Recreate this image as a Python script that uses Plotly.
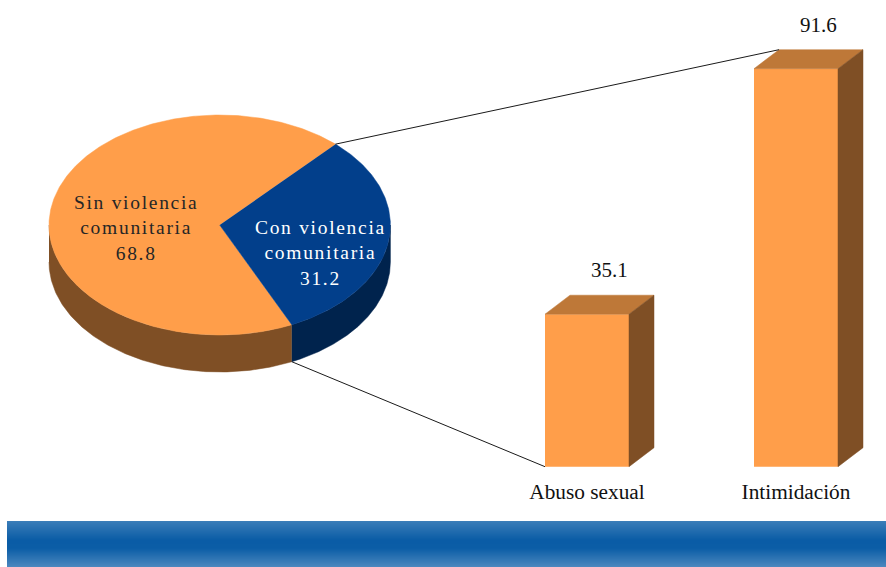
import numpy as np
import plotly.graph_objects as go

# ---- data ----
pie_labels = ["Sin violencia<br>comunitaria", "Con violencia<br>comunitaria"]
pie_values = [68.8, 31.2]
bar_categories = ["Abuso sexual", "Intimidación"]
bar_values = [35.1, 91.6]

W, H = 886, 567
ORANGE, ORANGE_SIDE, ORANGE_TOP = "#FF9E4A", "#7F4F25", "#BE7838"
BLUE, BLUE_SIDE = "#023F8B", "#00234D"
FONT = "Liberation Serif"

# ---- scales ----
BASE_PX, PX_PER_UNIT = 466.7, 4.345
AXIS_PX = 477
CAT0_PX, CAT_STEP = 587, 209
BAR_W_PX, DEPTH_X, DEPTH_Y = 84, 25, 19
val_px = lambda v: BASE_PX - v * PX_PER_UNIT

# pie geometry
CX, CY, RX, RY, DEPTH = 219.7, 225, 170.7, 110, 37
START_DEG = 47.3  # upper split between the slices
blue_span = 360 * pie_values[1] / sum(pie_values)
END_DEG = START_DEG - blue_span


def arc(a0, a1, dy=0, n=160):
    t = np.radians(np.linspace(a0, a1, n))
    return CX + RX * np.cos(t), CY - RY * np.sin(t) + dy


def poly(x, y, color, name):
    return go.Scatter(x=list(x), y=list(y), mode="lines", fill="toself", fillcolor=color,
                      line=dict(color=color, width=0.5), xaxis="x2", yaxis="y2",
                      hoverinfo="skip", showlegend=False, name=name)


def side_wall(a0, a1, color, name):
    x, y = arc(a0, a1)
    xb, yb = arc(a1, a0, DEPTH)
    return poly(np.r_[x, xb], np.r_[y, yb], color, name)


fig = go.Figure()

# bars (front faces) through the value axis
fig.add_trace(go.Bar(x=[0, 1], y=bar_values, width=BAR_W_PX / CAT_STEP,
                     marker=dict(color=ORANGE, line=dict(width=0)),
                     hoverinfo="skip", showlegend=False))

# pie
fig.add_trace(side_wall(-180, END_DEG, ORANGE_SIDE, "side a"))
fig.add_trace(side_wall(END_DEG, 0, BLUE_SIDE, "side b"))
xa, ya = arc(START_DEG, END_DEG + 360, n=400)
fig.add_trace(poly(np.r_[CX, xa], np.r_[CY, ya], ORANGE, pie_labels[0]))
xb, yb = arc(END_DEG, START_DEG)
fig.add_trace(poly(np.r_[CX, xb], np.r_[CY, yb], BLUE, pie_labels[1]))

# bar depth faces
for i, v in enumerate(bar_values):
    x0 = CAT0_PX + i * CAT_STEP - BAR_W_PX / 2
    x1 = x0 + BAR_W_PX
    top = val_px(v)
    fig.add_trace(poly([x0, x0 + DEPTH_X, x1 + DEPTH_X, x1, x0],
                       [top, top - DEPTH_Y, top - DEPTH_Y, top, top], ORANGE_TOP, "top"))
    fig.add_trace(poly([x1, x1 + DEPTH_X, x1 + DEPTH_X, x1, x1],
                       [top, top - DEPTH_Y, BASE_PX - DEPTH_Y, BASE_PX, top], ORANGE_SIDE, "side"))

# connector lines
ux, uy = arc(START_DEG, START_DEG, n=1)
lx, ly = arc(END_DEG, END_DEG, DEPTH, n=1)
bar2_x0 = CAT0_PX + CAT_STEP - BAR_W_PX / 2
bar1_x0 = CAT0_PX - BAR_W_PX / 2
for xs, ys in (([ux[0], bar2_x0 + DEPTH_X], [uy[0], val_px(bar_values[1]) - DEPTH_Y]),
               ([lx[0], bar1_x0], [ly[0], BASE_PX])):
    fig.add_trace(go.Scatter(x=xs, y=ys, mode="lines", line=dict(color="#1a1a1a", width=1),
                             xaxis="x2", yaxis="y2", hoverinfo="skip", showlegend=False))

# banner gradient (top, middle, bottom colour stops)
stops = [(0.0, (58, 125, 184)), (0.42, (10, 92, 166)), (0.6, (12, 94, 167)), (1.0, (74, 135, 190))]
BAN_X0, BAN_Y0 = 7, 521
shapes = []
for py in range(BAN_Y0, H):
    f = (py - BAN_Y0) / (H - 1 - BAN_Y0)
    c = [np.interp(f, [s[0] for s in stops], [s[1][k] for s in stops]) for k in range(3)]
    shapes.append(dict(type="rect", xref="x2", yref="y2", x0=BAN_X0, x1=W, y0=py, y1=py + 1,
                       fillcolor="rgb(%d,%d,%d)" % tuple(c), line=dict(width=0), layer="below"))

# texts
annots = []
for label, val, px, py, col in ((pie_labels[0], pie_values[0], 136, 228, "#262626"),
                                (pie_labels[1], pie_values[1], 320, 253, "#FFFFFF")):
    annots.append(dict(text=f"{label}<br>{val}", x=px, y=py, xref="x2", yref="y2", showarrow=False,
                       xanchor="center", yanchor="middle", align="center",
                       font=dict(family=FONT, size=19.5, color=col)))
for i, v in enumerate(bar_values):
    annots.append(dict(text=f"{v}", x=CAT0_PX + i * CAT_STEP + 22, y=val_px(v) - 44,
                       xref="x2", yref="y2", showarrow=False, xanchor="center", yanchor="middle",
                       font=dict(family=FONT, size=21, color="#111111")))

fig.update_layout(
    width=W, height=H, margin=dict(l=0, r=0, t=0, b=0),
    paper_bgcolor="white", plot_bgcolor="rgba(0,0,0,0)", showlegend=False,
    shapes=shapes, annotations=annots,
    xaxis=dict(domain=[0, 1], range=[-CAT0_PX / CAT_STEP, (W - CAT0_PX) / CAT_STEP],
               tickmode="array", tickvals=[0, 1], ticktext=bar_categories, anchor="y",
               showgrid=False, zeroline=False, showline=False, ticks="",
               tickfont=dict(family=FONT, size=21.3, color="#111111")),
    yaxis=dict(domain=[1 - AXIS_PX / H, 1],
               range=[(BASE_PX - AXIS_PX) / PX_PER_UNIT, BASE_PX / PX_PER_UNIT],
               visible=False, anchor="x"),
    xaxis2=dict(domain=[0, 1], range=[0, W], visible=False, anchor="y2"),
    yaxis2=dict(domain=[0, 1], range=[H, 0], visible=False, anchor="x2"),
)

post = """
document.documentElement.style.margin = '0';
document.documentElement.style.overflow = 'hidden';
document.body.style.margin = '0';
document.querySelectorAll('.annotation-text').forEach(function(t){
  if (t.textContent.indexOf('violencia') >= 0) { t.style.letterSpacing = '1.7px'; }
});
"""
fig.write_html("out.html", post_script=post, config=dict(displayModeBar=False))
